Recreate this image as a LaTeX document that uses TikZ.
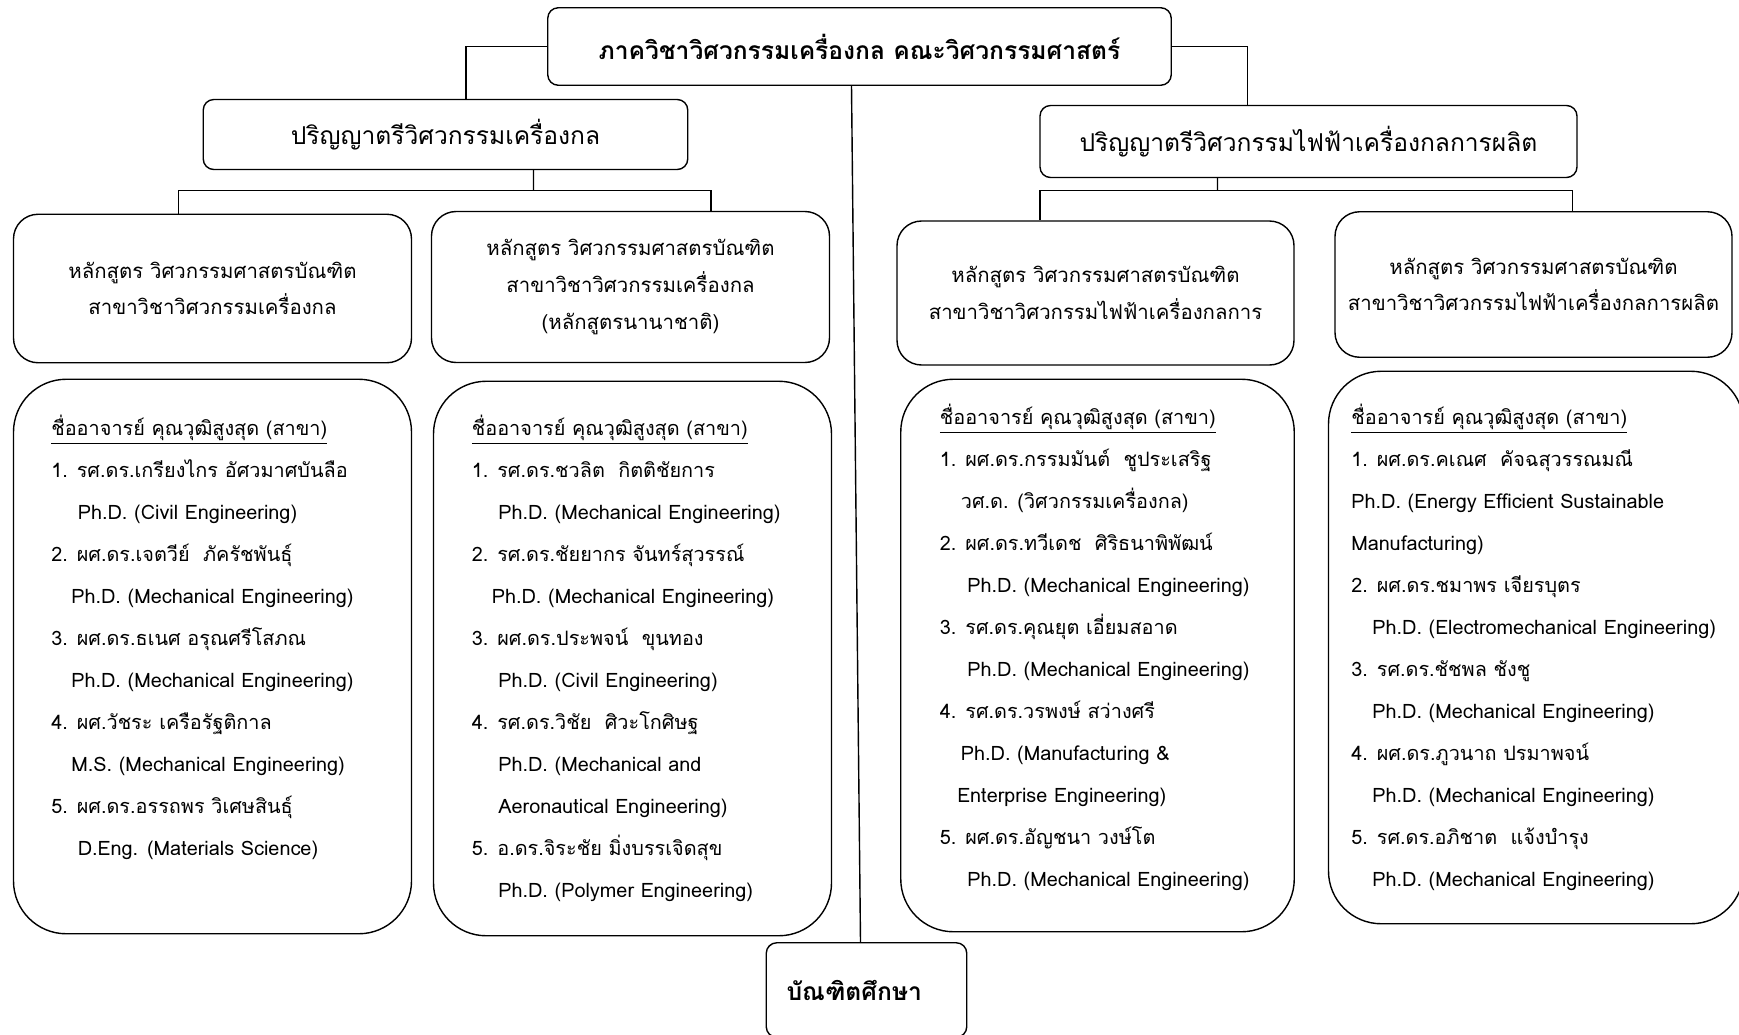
\documentclass[tikz,border=0pt]{standalone}
\usepackage{fontspec}
\setmainfont[Script=Thai]{Loma}
\tikzset{%
	titlebox/.style  = {draw, thick, rounded corners=6pt, font=\fontsize{14}{17}\selectfont\bfseries},
	degbox/.style    = {draw, thick, rounded corners=6pt, font=\fontsize{14}{17}\selectfont},
	progbox/.style   = {draw, thick, rounded corners=14pt, align=center,
		font=\fontsize{11.6}{20.8}\selectfont},
	staffbox/.style  = {draw, thick, rounded corners=30pt}, % frame only
	stafflist/.style = {anchor=north west, align=left, inner sep=0pt,
		font=\fontsize{11.3}{23.9}\selectfont},
	link/.style      = {thick}
}
\newcommand{\ind}[1]{\hspace*{#1cm}}
\newcommand{\listhead}{\underline{ชื่ออาจารย์ คุณวุฒิสูงสุด (สาขา)}}

\begin{document}
\begin{tikzpicture}
			\useasboundingbox (0,0) rectangle (34.78,-20.69);

			\node[titlebox, minimum width=12.47cm, minimum height=1.55cm] (dept) at (17.19,-0.93) {ภาควิชาวิศวกรรมเครื่องกล คณะวิศวกรรมศาสตร์};
			\node[degbox, minimum width=9.69cm, minimum height=1.40cm] (me) at (8.91,-2.69) {ปริญญาตรีวิศวกรรมเครื่องกล};
			\node[degbox, minimum width=10.74cm, minimum height=1.44cm] (eme) at (26.17,-2.83) {ปริญญาตรีวิศวกรรมไฟฟ้าเครื่องกลการผลิต};

			% programmes
			\node[progbox, minimum width=7.96cm, minimum height=2.97cm] (meprog) at (4.25,-5.77) {หลักสูตร วิศวกรรมศาสตรบัณฑิต\\สาขาวิชาวิศวกรรมเครื่องกล};
			\node[progbox, minimum width=7.96cm, minimum height=3.02cm] (meiprog) at (12.61,-5.74) {หลักสูตร วิศวกรรมศาสตรบัณฑิต\\สาขาวิชาวิศวกรรมเครื่องกล\\(หลักสูตรนานาชาติ)};
			\node[progbox, minimum width=7.94cm, minimum height=2.88cm] (emprog) at (21.91,-5.86) {หลักสูตร วิศวกรรมศาสตรบัณฑิต\\สาขาวิชาวิศวกรรมไฟฟ้าเครื่องกลการ};
			\node[progbox, minimum width=7.94cm, minimum height=2.91cm] (mfprog) at (30.67,-5.69) {หลักสูตร วิศวกรรมศาสตรบัณฑิต\\สาขาวิชาวิศวกรรมไฟฟ้าเครื่องกลการผลิต};

			% staff frames
			\node[staffbox, minimum width=7.96cm, minimum height=11.09cm] (mestaff) at (4.25,-13.13) {};
			\node[staffbox, minimum width=7.96cm, minimum height=11.09cm] (meistaff) at (12.65,-13.17) {};
			\node[staffbox, minimum width=7.87cm, minimum height=11.05cm] (emstaff) at (21.95,-13.11) {};
			\node[staffbox, minimum width=8.30cm, minimum height=11.05cm] (mfstaff) at (30.72,-12.95) {};

			\node[stafflist] (melist) at (1.02,-8.30) {\listhead\\
				1. รศ.ดร.เกรียงไกร อัศวมาศบันลือ\\
				\ind{0.53}Ph.D. (Civil Engineering)\\
				2. ผศ.ดร.เจตวีย์~ ภัครัชพันธุ์\\
				\ind{0.40}Ph.D. (Mechanical Engineering)\\
				3. ผศ.ดร.ธเนศ อรุณศรีโสภณ\\
				\ind{0.40}Ph.D. (Mechanical Engineering)\\
				4. ผศ.วัชระ เครือรัฐติกาล\\
				\ind{0.40}M.S. (Mechanical Engineering)\\
				5. ผศ.ดร.อรรถพร วิเศษสินธุ์\\
				\ind{0.53}D.Eng. (Materials Science)};
			\node[stafflist] (meilist) at (9.43,-8.30) {\listhead\\
				1. รศ.ดร.ชวลิต~ กิตติชัยการ\\
				\ind{0.53}Ph.D. (Mechanical Engineering)\\
				2. รศ.ดร.ชัยยากร จันทร์สุวรรณ์\\
				\ind{0.40}Ph.D. (Mechanical Engineering)\\
				3. ผศ.ดร.ประพจน์~ ขุนทอง\\
				\ind{0.53}Ph.D. (Civil Engineering)\\
				4. รศ.ดร.วิชัย~ ศิวะโกศิษฐ\\
				\ind{0.53}Ph.D. (Mechanical and\\
				\ind{0.53}Aeronautical Engineering)\\
				5. อ.ดร.จิระชัย มิ่งบรรเจิดสุข\\
				\ind{0.53}Ph.D. (Polymer Engineering)};
			\node[stafflist] (emlist) at (18.79,-8.08) {\listhead\\
				1. ผศ.ดร.กรรมมันต์~ ชูประเสริฐ\\
				\ind{0.42}วศ.ด. (วิศวกรรมเครื่องกล)\\
				2. ผศ.ดร.ทวีเดช~ ศิริธนาพิพัฒน์\\
				\ind{0.55}Ph.D. (Mechanical Engineering)\\
				3. รศ.ดร.คุณยุต เอี่ยมสอาด\\
				\ind{0.55}Ph.D. (Mechanical Engineering)\\
				4. รศ.ดร.วรพงษ์ สว่างศรี\\
				\ind{0.42}Ph.D. (Manufacturing \&\\
				\ind{0.35}Enterprise Engineering)\\
				5. ผศ.ดร.อัญชนา วงษ์โต\\
				\ind{0.55}Ph.D. (Mechanical Engineering)};
			\node[stafflist] (mflist) at (27.02,-8.08) {\listhead\\
				1. ผศ.ดร.คเณศ~ คัจฉสุวรรณมณี\\
				Ph.D. (Energy Efficient Sustainable\\
				Manufacturing)\\
				2. ผศ.ดร.ชมาพร เจียรบุตร\\
				\ind{0.42}Ph.D. (Electromechanical Engineering)\\
				3. รศ.ดร.ชัชพล ชังชู\\
				\ind{0.42}Ph.D. (Mechanical Engineering)\\
				4. ผศ.ดร.ภูวนาถ ปรมาพจน์\\
				\ind{0.42}Ph.D. (Mechanical Engineering)\\
				5. รศ.ดร.อภิชาต~ แจ้งบำรุง\\
				\ind{0.42}Ph.D. (Mechanical Engineering)};

			\node[titlebox, minimum width=4.01cm, minimum height=1.89cm] (grad) at (17.33,-19.80) {บัณฑิตศึกษา\hspace*{0.49cm}};

			% tree lines
			\coordinate (mebus) at (10.67,-3.81);
			\coordinate (embus) at (24.35,-3.81);
			\draw[link] (dept.west) -| ([xshift=0.41cm]me.north);
			\draw[link] (dept.east) -| ([xshift=-1.22cm]eme.north);
			\draw[link] ([xshift=1.76cm]me.south) -- (mebus);
			\draw[link] (mebus) -| ([xshift=-0.68cm]meprog.north);
			\draw[link] (mebus) -| ([xshift=1.61cm]meiprog.north);
			\draw[link] ([xshift=-1.82cm]eme.south) -- (embus);
			\draw[link] (embus) -| ([xshift=-1.11cm]emprog.north);
			\draw[link] (embus) -| ([xshift=0.78cm]mfprog.north);
			\draw[link] ([xshift=-0.16cm]dept.south) -- ([xshift=-0.12cm]grad.north);
		\end{tikzpicture}
\end{document}
